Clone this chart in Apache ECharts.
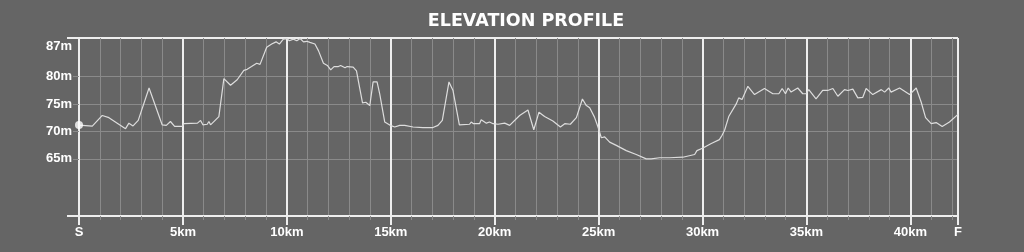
<!DOCTYPE html>
<html><head><meta charset="utf-8">
<script src="https://cdn.jsdelivr.net/npm/echarts@6/dist/echarts.min.js"></script>
<style>html,body{margin:0;padding:0;background:#656565;}#c{width:1024px;height:252px;}</style>
</head><body><div id="c"></div>
<script>
const distanceKm = [0,0.64,1.12,1.44,2.24,2.4,2.6,2.85,3.37,4.0,4.2,4.4,4.6,4.97,5.05,5.7,5.85,5.96,6.17,6.25,6.33,6.73,6.97,7.29,7.61,7.93,8.09,8.3,8.55,8.71,9.03,9.27,9.48,9.64,9.83,9.99,10.12,10.31,10.48,10.64,10.8,10.96,11.11,11.35,11.52,11.76,11.95,12.11,12.27,12.48,12.59,12.8,12.9,13.19,13.35,13.51,13.64,13.8,13.99,14.15,14.34,14.47,14.71,14.95,15.19,15.43,15.67,16.07,16.55,17.03,17.27,17.48,17.8,17.99,18.3,18.79,18.87,18.98,19.27,19.35,19.6,19.75,19.92,20.16,20.48,20.72,21.2,21.6,21.88,22.13,22.4,22.8,23.16,23.37,23.64,23.93,24.22,24.41,24.57,24.8,24.97,25.13,25.29,25.53,25.85,26.33,26.81,27.29,27.53,27.93,28.41,29.05,29.62,29.73,30.02,30.42,30.81,30.94,31.06,31.26,31.62,31.74,31.9,32.18,32.5,32.98,33.38,33.67,33.83,33.99,34.12,34.26,34.58,34.82,34.98,35.11,35.46,35.78,36.02,36.27,36.51,36.83,36.99,37.23,37.47,37.71,37.87,38.19,38.6,38.76,38.96,39.07,39.48,39.96,40.28,40.52,40.73,41.0,41.24,41.53,41.88,42.29];
const elevationM = [71.15,70.97,72.9,72.5,70.5,71.5,71.0,72.0,77.9,71.2,71.1,71.8,70.9,70.9,71.4,71.5,72.0,71.2,71.3,71.8,71.2,72.7,79.6,78.4,79.4,81.1,81.3,81.8,82.4,82.2,85.3,85.9,86.3,85.9,86.8,86.9,86.5,86.8,86.5,86.9,86.3,86.4,86.2,85.9,84.7,82.4,82.0,81.2,81.8,81.8,82.0,81.6,81.8,81.7,81.0,77.8,75.2,75.3,74.7,79.0,79.0,76.8,71.7,71.15,70.8,71.1,71.1,70.8,70.7,70.7,71.1,72.0,79.0,77.5,71.2,71.3,71.7,71.4,71.4,72.1,71.5,71.7,71.4,71.3,71.5,71.1,72.9,73.9,70.3,73.5,72.7,71.9,70.8,71.4,71.3,72.5,75.9,74.7,74.3,72.6,70.8,68.85,69.0,68.05,67.45,66.5,65.8,65.0,65.0,65.2,65.2,65.3,65.8,66.5,66.97,67.8,68.5,69.3,70.2,72.7,75.0,76.1,75.8,78.2,76.7,77.8,76.85,76.85,77.8,76.85,77.9,77.15,77.9,76.85,76.85,77.6,75.9,77.45,77.45,77.8,76.4,77.6,77.45,77.7,76.1,76.2,77.8,76.7,77.6,77.15,77.9,77.15,77.9,76.7,77.9,75.3,72.5,71.4,71.6,70.9,71.7,73.1];
const startPoint = [0, 71.15];
const courseMax = 42.29;
const yMin = 54.6, yMax = 87;
const yGridValues = [65, 70, 75, 80];
const yBorderValues = [54.6, 87];
const yTopLabel = [87];

const chart = echarts.init(document.getElementById('c'), null, {renderer: 'canvas'});
const axisFont = {color: '#ffffff', fontFamily: 'Liberation Sans, Arial, sans-serif', fontWeight: 'bold', fontSize: 13};
const thin = '#8a8a8a', thick = '#eeeeee';
chart.setOption({
  backgroundColor: '#656565',
  animation: false,
  title: {text: 'ELEVATION PROFILE', left: 521, textAlign: 'center', top: 7,
    textStyle: {color: '#ffffff', fontFamily: 'DejaVu Sans', fontWeight: 'bold', fontSize: 17.5}},
  grid: {left: 79, right: 66, top: 38, bottom: 36, containLabel: false},
  xAxis: [
    {type: 'value', min: 0, max: courseMax, interval: 1, position: 'bottom',
      axisLine: {show: false}, axisTick: {show: true, length: 4, lineStyle: {color: thin, width: 1}},
      axisLabel: {show: false}, splitLine: {show: true, lineStyle: {color: thin, width: 1}}},
    {type: 'value', min: 0, max: courseMax, interval: 5, position: 'bottom',
      axisLine: {show: true, onZero: false, lineStyle: {color: thick, width: 2}},
      axisTick: {show: true, length: 9, lineStyle: {color: thick, width: 2}},
      axisLabel: Object.assign({}, axisFont, {margin: 10, showMinLabel: true, showMaxLabel: true,
        formatter: v => v === 0 ? 'S' : (Math.abs(v - courseMax) < 1e-6 ? 'F' : v + 'km')}),
      splitLine: {show: true, lineStyle: {color: thick, width: 2}}}
  ],
  yAxis: [
    {type: 'value', min: yMin, max: yMax, position: 'left',
      axisLine: {show: false},
      axisTick: {show: true, customValues: yGridValues, length: 6, lineStyle: {color: thin, width: 1}},
      axisLabel: Object.assign({}, axisFont, {customValues: yGridValues, margin: 7, formatter: '{value}m'}),
      splitLine: {show: true, lineStyle: {color: thin, width: 1}}},
    {type: 'value', min: yMin, max: yMax, position: 'left',
      axisLine: {show: false},
      axisTick: {show: true, customValues: yBorderValues, length: 12, lineStyle: {color: thick, width: 2}},
      axisLabel: Object.assign({}, axisFont, {customValues: yTopLabel, margin: 7, verticalAlign: 'top',
        padding: [2, 0, 0, 0], formatter: '{value}m'}),
      splitLine: {show: true, lineStyle: {color: thick, width: 2}}}
  ],
  series: [
    {type: 'line', xAxisIndex: 1, yAxisIndex: 0, data: distanceKm.map((d, i) => [d, elevationM[i]]),
      symbol: 'none', lineStyle: {color: '#dddddd', width: 1.2}, z: 5},
    {type: 'scatter', xAxisIndex: 1, yAxisIndex: 0, data: [startPoint], symbolSize: 8,
      itemStyle: {color: '#ffffff'}, z: 6}
  ]
});
</script>
</body></html>
